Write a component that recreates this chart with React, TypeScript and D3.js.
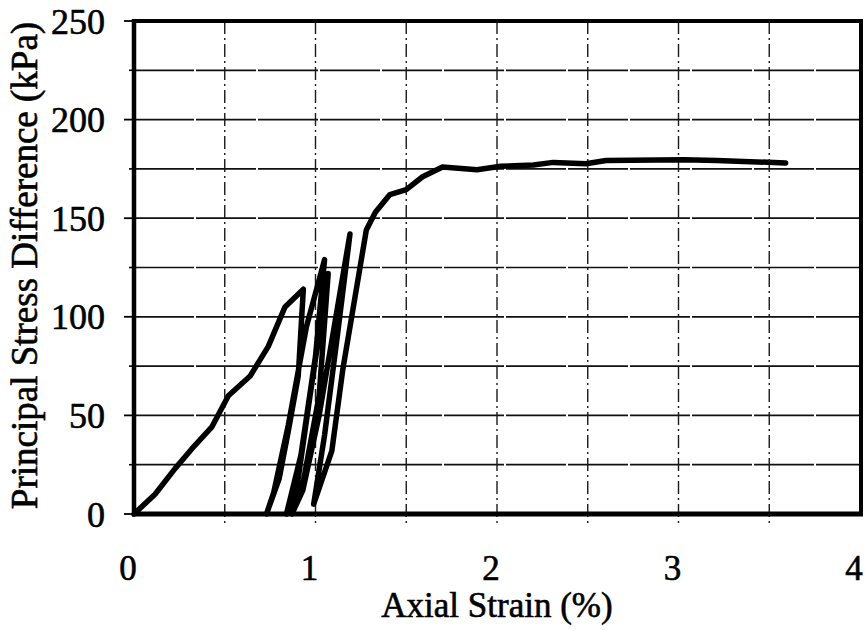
import React from "react";
import * as d3 from "d3";

// Axial strain (%) along the recorded loading path (including unload/reload cycles)
const strain = [
  0, 0.116, 0.226, 0.318, 0.428, 0.52, 0.64, 0.74, 0.832, 0.933,
  0.905, 0.85, 0.8, 0.73,
  0.77, 0.85, 0.95, 1.05,
  1.0, 0.92, 0.84,
  0.9, 0.97, 1.07,
  1.02, 0.93, 0.87,
  0.93, 1.02, 1.19,
  1.12, 1.05, 0.99,
  1.09, 1.15, 1.28, 1.33,
  1.41, 1.5, 1.59, 1.7, 1.89, 2.02, 2.2, 2.31, 2.49, 2.6, 3.03, 3.21, 3.59,
];
// Principal stress difference (kPa)
const stress = [
  0, 10, 23, 33, 44, 60, 70, 85, 105, 114,
  70, 42, 18, 0,
  11, 45, 95, 129,
  80, 30, 0,
  15, 60, 122,
  60, 15, 0,
  12, 50, 142,
  90, 40, 5,
  32, 73, 144, 153,
  162, 164.5, 171, 176, 174.6, 176.3, 177, 178.3, 177.6, 179.3, 179.6, 179.3, 178,
];

const xTicks = [0, 1, 2, 3, 4];
const yTicks = [0, 50, 100, 150, 200, 250];
const xGrid = [0.5, 1, 1.5, 2, 2.5, 3, 3.5];
const yGrid = [25, 50, 75, 100, 125, 150, 175, 200, 225];
const yMinor = [25, 75, 125, 175, 225];

const W = 865;
const H = 630;
const left = 134;
const right = 860;
const top = 21;
const bottom = 514;
const font = "'Liberation Serif', 'Times New Roman', serif";

export default function App() {
  const x = d3.scaleLinear().domain([0, 4]).range([left, right]);
  const y = d3.scaleLinear().domain([0, 250]).range([bottom, top]);
  const pts: [number, number][] = strain.map((s, i) => [s, stress[i]]);
  const line = d3
    .line<[number, number]>()
    .x((d) => x(d[0]))
    .y((d) => y(d[1]));

  const textStyle = {
    fontFamily: font,
    fill: "#000",
    stroke: "#000",
    strokeWidth: 0.6,
  } as const;

  return (
    <svg
      width={W}
      height={H}
      style={{ position: "absolute", left: 0, top: 0, background: "#fff" }}
    >
      <rect x={0} y={0} width={W} height={H} fill="#fff" />
      {/* horizontal grid */}
      {yGrid.map((v) => (
        <line
          key={"hg" + v}
          x1={left}
          x2={right}
          y1={y(v)}
          y2={y(v)}
          stroke="#111"
          strokeWidth={1.7}
          strokeDasharray="60 2"
        />
      ))}
      {/* vertical grid */}
      {xGrid.map((v) => (
        <line
          key={"vg" + v}
          x1={x(v)}
          x2={x(v)}
          y1={top}
          y2={bottom + 10}
          stroke="#1a1a1a"
          strokeWidth={1.4}
          strokeDasharray="13 4 2 4"
        />
      ))}
      {/* left ticks */}
      {yTicks.map((v) => (
        <line
          key={"yt" + v}
          x1={left - 10}
          x2={left}
          y1={y(v)}
          y2={y(v)}
          stroke="#000"
          strokeWidth={1.8}
        />
      ))}
      {yMinor.map((v) => (
        <line
          key={"ym" + v}
          x1={left - 5}
          x2={left}
          y1={y(v)}
          y2={y(v)}
          stroke="#000"
          strokeWidth={1.6}
        />
      ))}
      {/* frame */}
      <line x1={left - 2} x2={right + 3} y1={top} y2={top} stroke="#000" strokeWidth={4} />
      <line x1={left - 2} x2={right + 3} y1={bottom} y2={bottom} stroke="#000" strokeWidth={5} />
      <line x1={left} x2={left} y1={top - 2} y2={bottom + 2} stroke="#000" strokeWidth={4.5} />
      <line x1={right + 1} x2={right + 1} y1={top - 2} y2={bottom + 2} stroke="#000" strokeWidth={4} />
      {/* data */}
      <path
        d={line(pts) || ""}
        fill="none"
        stroke="#000"
        strokeWidth={5.5}
        strokeLinejoin="round"
        strokeLinecap="round"
      />
      {/* y tick labels */}
      {yTicks.map((v) => (
        <text
          key={"yl" + v}
          x={105}
          y={y(v)}
          dy="0.35em"
          textAnchor="end"
          fontSize={36}
          {...textStyle}
        >
          {v}
        </text>
      ))}
      {/* x tick labels */}
      {xTicks.map((v) => (
        <text
          key={"xl" + v}
          x={x(v) - 6}
          y={580}
          textAnchor="middle"
          fontSize={35}
          {...textStyle}
        >
          {v}
        </text>
      ))}
      <text
        x={(left + right) / 2}
        y={617}
        textAnchor="middle"
        fontSize={35}
        {...textStyle}
      >
        Axial Strain (%)
      </text>
      <text
        transform={`translate(37, ${(top + bottom) / 2 - 2}) rotate(-90)`}
        textAnchor="middle"
        fontSize={37}
        {...textStyle}
      >
        Principal Stress Difference (kPa)
      </text>
    </svg>
  );
}
